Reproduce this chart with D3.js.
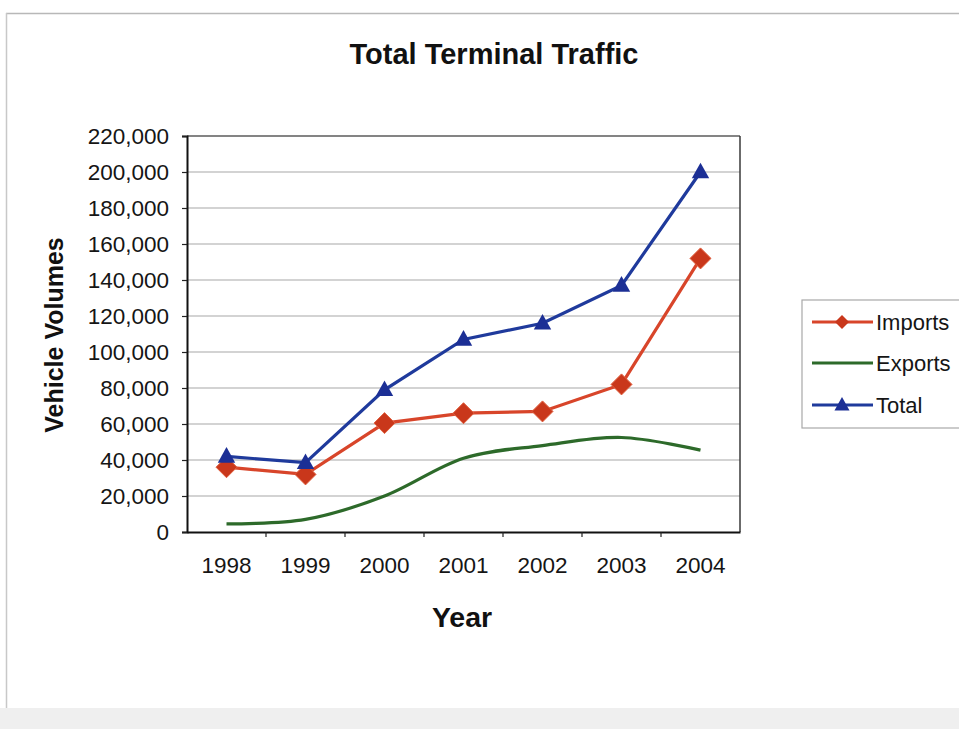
<!DOCTYPE html>
<html>
<head>
<meta charset="utf-8">
<script src="https://cdn.jsdelivr.net/npm/d3@7"></script>
<style>
  html, body { margin: 0; padding: 0; background: #ffffff; }
  svg { display: block; font-family: "Liberation Sans", Arial, sans-serif; }
</style>
</head>
<body>
<svg id="chart" width="959" height="729"></svg>
<script>
// Vehicle volumes handled at the terminal, by year
const years = ["1998", "1999", "2000", "2001", "2002", "2003", "2004"];
const imports = [36000, 32000, 60500, 66000, 67000, 82000, 152000];
const exports = [4500, 7000, 20000, 41000, 48000, 52500, 45500];
const total = [42000, 38500, 79000, 107000, 116000, 137000, 200000];
const yTicks = [0, 20000, 40000, 60000, 80000, 100000, 120000, 140000, 160000, 180000, 200000, 220000];
const seriesNames = ["Imports", "Exports", "Total"];

const svg = d3.select("#chart");
const W = 959, H = 729;

// chart area frame
svg.append("rect").attr("x", 0).attr("y", 0).attr("width", W).attr("height", H).attr("fill", "#ffffff");
svg.append("rect").attr("x", 0).attr("y", 708).attr("width", W).attr("height", 21).attr("fill", "#efefef");
svg.append("line").attr("x1", 6).attr("x2", W).attr("y1", 13.5).attr("y2", 13.5)
  .attr("stroke", "#b8b8b8").attr("stroke-width", 1.5);
svg.append("line").attr("x1", 6.5).attr("x2", 6.5).attr("y1", 13).attr("y2", 708)
  .attr("stroke", "#c8c8c8").attr("stroke-width", 1.5);

const plot = { left: 187, right: 740, top: 136, bottom: 532 };

const x = d3.scaleBand().domain(years).range([plot.left, plot.right]);
const y = d3.scaleLinear().domain([0, 220000]).range([plot.bottom, plot.top]);
const cx = d => x(d) + x.bandwidth() / 2;

// horizontal gridlines
svg.append("g").selectAll("line").data(yTicks.slice(1)).join("line")
  .attr("x1", plot.left).attr("x2", plot.right)
  .attr("y1", d => y(d)).attr("y2", d => y(d))
  .attr("stroke", "#c4c4c4").attr("stroke-width", 1.5);

// plot area border (top and right)
svg.append("line").attr("x1", plot.left).attr("x2", plot.right).attr("y1", plot.top).attr("y2", plot.top)
  .attr("stroke", "#6a6a6a").attr("stroke-width", 1.5);
svg.append("line").attr("x1", plot.right).attr("x2", plot.right).attr("y1", plot.top).attr("y2", plot.bottom)
  .attr("stroke", "#3a3a3a").attr("stroke-width", 1.5);

// y axis
const yAxis = d3.axisLeft(y).tickValues(yTicks).tickSize(5).tickPadding(13)
  .tickFormat(d3.format(","));
const gy = svg.append("g").attr("transform", `translate(${plot.left},0)`).call(yAxis);
gy.select(".domain").attr("stroke", "#111").attr("stroke-width", 2);
gy.selectAll(".tick line").attr("stroke", "#222").attr("stroke-width", 1.2);
gy.selectAll(".tick text").attr("font-size", 22.5).attr("fill", "#151515")
  .attr("font-family", "Liberation Sans, Arial, sans-serif");

// x axis: ticks between categories
const xAxis = d3.axisBottom(x).tickSize(0).tickPadding(25);
const gx = svg.append("g").attr("transform", `translate(0,${plot.bottom})`).call(xAxis);
gx.select(".domain").attr("stroke", "#111").attr("stroke-width", 2);
gx.selectAll(".tick text").attr("font-size", 22.5).attr("fill", "#151515")
  .attr("font-family", "Liberation Sans, Arial, sans-serif");
svg.append("g").selectAll("line").data(years.slice(1)).join("line")
  .attr("x1", d => x(d)).attr("x2", d => x(d))
  .attr("y1", plot.bottom).attr("y2", plot.bottom + 5)
  .attr("stroke", "#222").attr("stroke-width", 1.2);

// titles
svg.append("text").attr("x", 494).attr("y", 64).attr("text-anchor", "middle")
  .attr("font-size", 29).attr("font-weight", "bold").attr("fill", "#111")
  .text("Total Terminal Traffic");
svg.append("text").attr("x", 462).attr("y", 627).attr("text-anchor", "middle")
  .attr("font-size", 28.5).attr("font-weight", "bold").attr("fill", "#111")
  .text("Year");
svg.append("text").attr("transform", "translate(63,335) rotate(-90)").attr("text-anchor", "middle")
  .attr("font-size", 25).attr("font-weight", "bold").attr("fill", "#111")
  .text("Vehicle Volumes");

// colours and markers
const colors = { Imports: "#d8452a", Exports: "#2d6a2a", Total: "#1f3a9c" };
const markerFill = { Imports: "#c9371b", Total: "#1c2f95" };
const diamond = r => `M0,${-r}L${r},0L0,${r}L${-r},0Z`;
const triangle = s => `M0,${-s * 0.62}L${s * 0.58},${s * 0.42}L${-s * 0.58},${s * 0.42}Z`;

const lineStraight = d3.line().x((d, i) => cx(years[i])).y(d => y(d));
const lineSmooth = d3.line().x((d, i) => cx(years[i])).y(d => y(d)).curve(d3.curveCardinal.tension(0));

// Exports (smoothed, no markers)
svg.append("path").datum(exports).attr("d", lineSmooth)
  .attr("fill", "none").attr("stroke", colors.Exports).attr("stroke-width", 3.2);

// Imports
svg.append("path").datum(imports).attr("d", lineStraight)
  .attr("fill", "none").attr("stroke", colors.Imports).attr("stroke-width", 3.2);
svg.append("g").selectAll("path").data(imports).join("path")
  .attr("transform", (d, i) => `translate(${cx(years[i])},${y(d)})`)
  .attr("d", diamond(10.5)).attr("fill", markerFill.Imports)
  .attr("stroke", "#e0603f").attr("stroke-width", 1);

// Total
svg.append("path").datum(total).attr("d", lineStraight)
  .attr("fill", "none").attr("stroke", colors.Total).attr("stroke-width", 3.2);
svg.append("g").selectAll("path").data(total).join("path")
  .attr("transform", (d, i) => `translate(${cx(years[i])},${y(d)})`)
  .attr("d", triangle(15)).attr("fill", markerFill.Total);

// legend
const lg = svg.append("g");
lg.append("rect").attr("x", 802).attr("y", 300).attr("width", 170).attr("height", 128)
  .attr("fill", "#ffffff").attr("stroke", "#a8a8a8").attr("stroke-width", 1.2);
const rows = [322, 363, 405];
seriesNames.forEach((name, i) => {
  const yy = rows[i];
  lg.append("line").attr("x1", 812).attr("x2", 873).attr("y1", yy).attr("y2", yy)
    .attr("stroke", colors[name]).attr("stroke-width", 3.2);
  if (name === "Imports") {
    lg.append("path").attr("transform", `translate(842,${yy})`).attr("d", diamond(7))
      .attr("fill", markerFill.Imports);
  } else if (name === "Total") {
    lg.append("path").attr("transform", `translate(842,${yy})`).attr("d", triangle(13))
      .attr("fill", markerFill.Total);
  }
  lg.append("text").attr("x", 876).attr("y", yy).attr("dy", "0.35em")
    .attr("font-size", 22).attr("fill", "#151515").text(name);
});
</script>
</body>
</html>
